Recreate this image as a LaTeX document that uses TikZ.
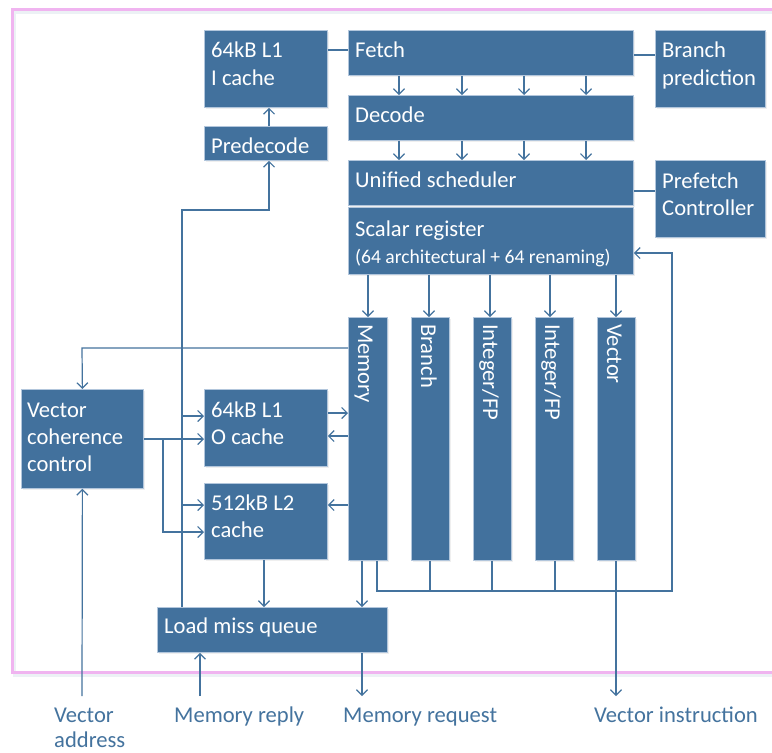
\documentclass[tikz,border=0pt]{standalone}
\usepackage{fontspec}
\setmainfont{Carlito}
\usetikzlibrary{arrows.meta,shadows}
\definecolor{boxblue}{RGB}{66,113,157}
\definecolor{boxedge}{RGB}{178,198,220}
\definecolor{wireblue}{RGB}{68,115,158}
\definecolor{framepink}{RGB}{240,180,240}
\tikzset{
  unit/.style={draw=boxedge, line width=0.8pt, fill=boxblue, inner sep=0pt,
    anchor=north west,
    drop shadow={opacity=0.12, shadow xshift=1.5pt, shadow yshift=-1.5pt}},
  txt/.style={anchor=base west, inner sep=0pt, text=white,
    font=\fontsize{22.6}{27}\selectfont},
  smalltxt/.style={txt, font=\fontsize{19.6}{24}\selectfont},
  vtxt/.style={txt, rotate=-90},
  exttxt/.style={anchor=base west, inner sep=0pt, text=wireblue,
    font=\fontsize{22.6}{27}\selectfont},
  wire/.style={draw=wireblue, line width=1.2pt},
  arr/.style={wire, -{Straight Barb[length=5.5pt,width=11pt,line width=1.2pt]}},
}
\begin{document}
\begin{tikzpicture}[x=1pt,y=-1pt]
\clip (0,0) rectangle (772,753);
\fill[white] (0,0) rectangle (772,753);

% outer frame of the core, with a soft shadow
\draw[wireblue!10, line width=3pt] (800,12) -- (14.5,12) -- (14.5,675) -- (800,675);
\draw[framepink, line width=3pt] (800,9.5) -- (12,9.5) -- (12,672) -- (800,672);

% front end
\node[unit, minimum width=123pt, minimum height=77pt] (icache) at (204,30) {};
\node[txt] (icache-t1) at (211,57) {64kB L1};
\node[txt] (icache-t2) at (211,85) {I cache};
\node[unit, minimum width=123pt, minimum height=34pt] (predec) at (204,126) {};
\node[txt] (predec-t) at (211,153) {Predecode};
\node[unit, minimum width=285pt, minimum height=45pt] (fetch) at (348,30) {};
\node[txt] (fetch-t) at (355,57) {Fetch};
\node[unit, minimum width=110pt, minimum height=77pt] (bpred) at (655,30) {};
\node[txt] (bpred-t1) at (662,57) {Branch};
\node[txt] (bpred-t2) at (662,85) {prediction};
\node[unit, minimum width=285pt, minimum height=45pt] (decode) at (348,95) {};
\node[txt] (decode-t) at (355,122) {Decode};
\node[unit, minimum width=285pt, minimum height=45pt] (sched) at (348,160) {};
\node[txt] (sched-t) at (355,187) {Unified scheduler};
\node[unit, minimum width=110pt, minimum height=77pt] (pfetch) at (655,160) {};
\node[txt] (pfetch-t1) at (662,188) {Prefetch};
\node[txt] (pfetch-t2) at (662,215) {Controller};
\node[unit, minimum width=285pt, minimum height=67pt] (scalar) at (348,207) {};
\node[txt] (scalar-t1) at (355,236) {Scalar register};
\node[smalltxt] (scalar-t2) at (355,263) {(64 architectural + 64 renaming)};

% execution units
\node[unit, minimum width=39pt, minimum height=243pt] (mem) at (348,317) {};
\node[vtxt] (mem-t) at (358,324) {Memory};
\node[unit, minimum width=38pt, minimum height=243pt] (branch) at (411,317) {};
\node[vtxt] (branch-t) at (421,324) {Branch};
\node[unit, minimum width=38pt, minimum height=243pt] (intfp) at (473,317) {};
\node[vtxt] (intfp-t) at (483,324) {Integer/FP};
\node[unit, minimum width=38pt, minimum height=243pt] (intfpb) at (535,317) {};
\node[vtxt] (intfpb-t) at (545,324) {Integer/FP};
\node[unit, minimum width=38pt, minimum height=243pt] (vec) at (597,317) {};
\node[vtxt] (vec-t) at (607,324) {Vector};

% memory side
\node[unit, minimum width=122pt, minimum height=99pt] (vcc) at (21,389) {};
\node[txt] (vcc-t1) at (27,417) {Vector};
\node[txt] (vcc-t2) at (27,444) {coherence};
\node[txt] (vcc-t3) at (27,471) {control};
\node[unit, minimum width=123pt, minimum height=77pt] (ocache) at (204,389) {};
\node[txt] (ocache-t1) at (211,417) {64kB L1};
\node[txt] (ocache-t2) at (211,444) {O cache};
\node[unit, minimum width=123pt, minimum height=76pt] (l2) at (204,483) {};
\node[txt] (l2-t1) at (211,510) {512kB L2};
\node[txt] (l2-t2) at (211,537) {cache};
\node[unit, minimum width=230pt, minimum height=45pt] (lmq) at (157,607) {};
\node[txt] (lmq-t) at (164,633) {Load miss queue};

% external signals
\coordinate (vaddr) at (82,696);
\coordinate (mreply) at (200,696);
\coordinate (mreq) at (362,696);
\coordinate (vinstr) at (616,696);
\node[exttxt] (vaddr-t1) at (54,722) {Vector};
\node[exttxt] (vaddr-t2) at (54,747) {address};
\node[exttxt] (mreply-t) at (174,722) {Memory reply};
\node[exttxt] (mreq-t) at (343,722) {Memory request};
\node[exttxt] (vinstr-t) at (594,722) {Vector instruction};

% front-end links
\draw[wire] (icache.east |- 0,50) -- (fetch.west |- 0,50);
\draw[wire] (fetch.east |- 0,55) -- (bpred.west |- 0,55);
\draw[wire] (sched.east |- 0,191) -- (pfetch.west |- 0,191);
\draw[arr] (predec.north -| 269,0) -- (icache.south -| 269,0);
\foreach \x in {399,462,524,586}{
  \draw[arr] (fetch.south -| \x,0) -- (decode.north -| \x,0);
  \draw[arr] (decode.south -| \x,0) -- (sched.north -| \x,0);
}

% issue to execution units
\draw[arr] (scalar.south -| 368,0) -- (mem.north -| 368,0);
\draw[arr] (scalar.south -| 429,0) -- (branch.north -| 429,0);
\draw[arr] (scalar.south -| 490,0) -- (intfp.north -| 490,0);
\draw[arr] (scalar.south -| 550,0) -- (intfpb.north -| 550,0);
\draw[arr] (scalar.south -| 616,0) -- (vec.north -| 616,0);

% write-back loop to the register file
\coordinate (wbl) at (377,591);
\coordinate (wbr) at (672,591);
\draw[arr] (mem.south -| wbl) -- (wbl) -- (wbr) -- (672,253) -- (scalar.east |- 0,253);
\draw[wire] (branch.south -| 430,0) -- (430,591);
\draw[wire] (intfp.south -| 492,0) -- (492,591);
\draw[wire] (intfpb.south -| 555,0) -- (555,591);
\draw[arr] (vec.south -| vinstr) -- (vinstr);

% caches and memory unit
\draw[arr] (ocache.east |- 0,413) -- (mem.west |- 0,413);
\draw[arr] (mem.west |- 0,436) -- (ocache.east |- 0,436);
\draw[arr] (mem.west |- 0,505) -- (l2.east |- 0,505);
\draw[arr] (mem.west |- 0,348) -- (82,348) -- (vcc.north);
\draw[arr] (vcc.east |- 0,439) -- (ocache.west |- 0,439);
\draw[arr] (163,439) -- (163,532) -- (l2.west |- 0,532);
\draw[arr] (lmq.north -| 182,0) -- (182,210) -- (269,210) -- (predec.south -| 269,0);
\draw[arr] (182,416) -- (ocache.west |- 0,416);
\draw[arr] (182,505) -- (l2.west |- 0,505);
\draw[arr] (l2.south -| 264,0) -- (lmq.north -| 264,0);
\draw[arr] (mem.south -| 362,0) -- (lmq.north -| 362,0);

% off-core signals
\draw[arr] (lmq.south -| mreq) -- (mreq);
\draw[arr] (mreply) -- (lmq.south -| mreply);
\draw[arr] (vaddr) -- (vcc.south);
\end{tikzpicture}
\end{document}
